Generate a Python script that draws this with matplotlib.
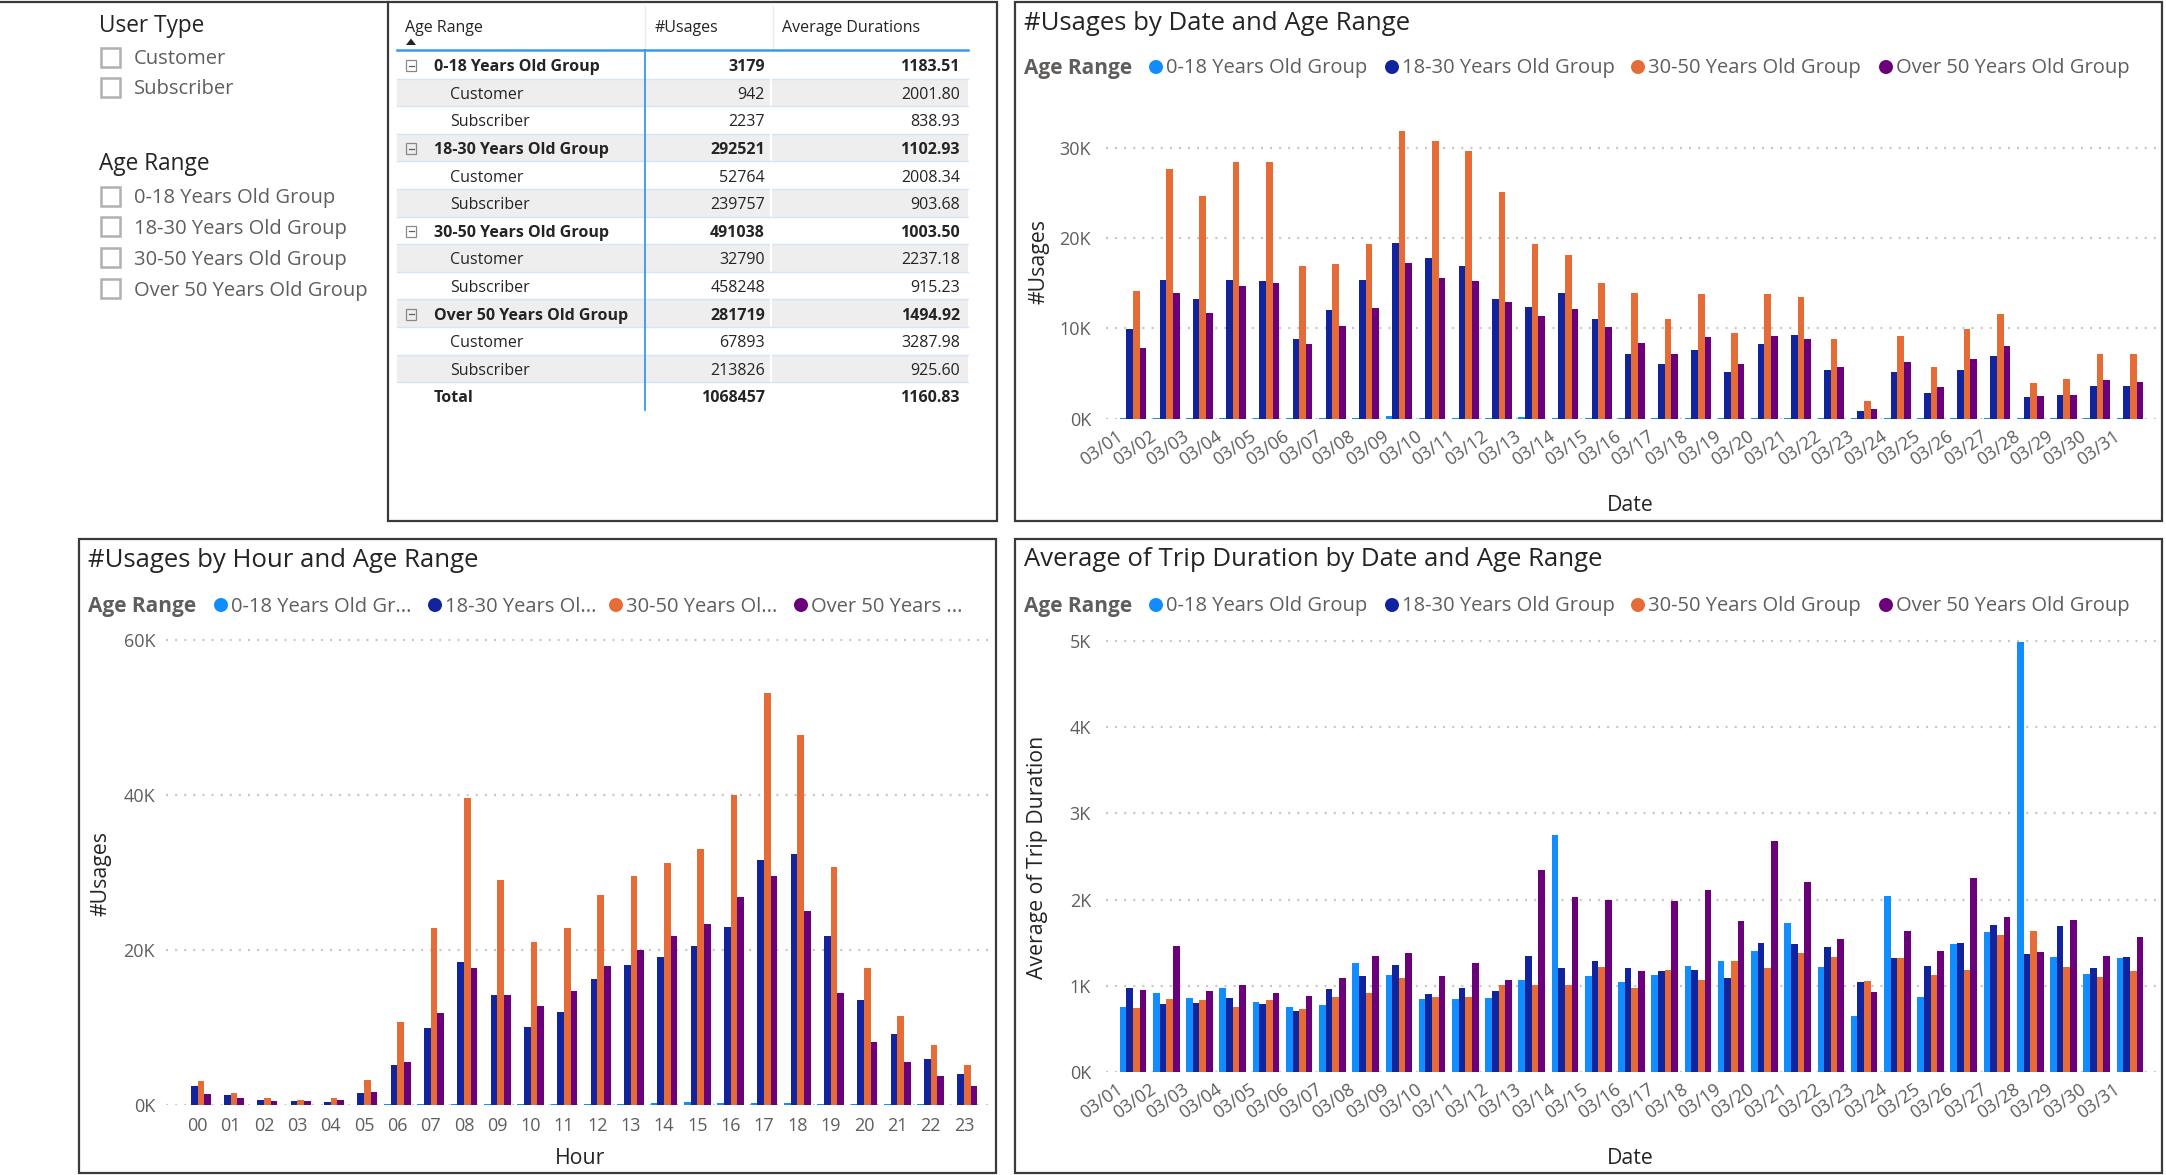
import matplotlib
matplotlib.use("Agg")
import matplotlib.pyplot as plt
import matplotlib.transforms as mtrans
from matplotlib.patches import Rectangle, Circle, Polygon
from matplotlib.ticker import FuncFormatter
import numpy as np

W, H, DPI = 2166, 1175, 100
plt.rcParams['font.family'] = ['Open Sans', 'DejaVu Sans']

# ---------------- data ----------------
colors = ['#118DFF', '#12239E', '#E66C37', '#6B007B']
age_groups = ["0-18 Years Old Group", "18-30 Years Old Group",
              "30-50 Years Old Group", "Over 50 Years Old Group"]
age_groups_short = ["0-18 Years Old Gr...", "18-30 Years Ol...",
                    "30-50 Years Ol...", "Over 50 Years ..."]
user_types = ["Customer", "Subscriber"]

dates = ["03/01", "03/02", "03/03", "03/04", "03/05", "03/06", "03/07", "03/08",
         "03/09", "03/10", "03/11", "03/12", "03/13", "03/14", "03/15", "03/16",
         "03/17", "03/18", "03/19", "03/20", "03/21", "03/22", "03/23", "03/24",
         "03/25", "03/26", "03/27", "03/28", "03/29", "03/30", "03/31"]
hours = ["00", "01", "02", "03", "04", "05", "06", "07", "08", "09", "10", "11",
         "12", "13", "14", "15", "16", "17", "18", "19", "20", "21", "22", "23"]

daily_usage_0_18 = [90, 110, 100, 120, 110, 80, 100, 110, 250, 120, 100, 90, 130, 110, 100, 80,
                    90, 100, 70, 110, 100, 80, 20, 100, 60, 90, 110, 60, 60, 80, 90]
daily_usage_18_30 = [9900, 15300, 13200, 15400, 15200, 8800, 12000, 15300, 19500, 17800, 16900,
                     13200, 12400, 13900, 11000, 7100, 6100, 7600, 5200, 8300, 9300, 5400, 850,
                     5200, 2800, 5400, 6900, 2400, 2600, 3600, 3600]
daily_usage_30_50 = [14100, 27600, 24700, 28400, 28400, 16900, 17100, 19300, 31800, 30700, 29600,
                     25100, 19300, 18100, 15000, 13900, 11000, 13800, 9500, 13800, 13500, 8800,
                     2000, 9200, 5700, 9900, 11600, 3900, 4400, 7100, 7200]
daily_usage_over50 = [7800, 13900, 11700, 14700, 15000, 8300, 10200, 12300, 17200, 15600, 15200,
                      12900, 11400, 12100, 10100, 8400, 7100, 9000, 6000, 9100, 8800, 5700, 1100,
                      6300, 3500, 6600, 8000, 2500, 2600, 4300, 4000]

hourly_usage_0_18 = [40, 30, 15, 10, 15, 40, 100, 130, 150, 140, 120, 130, 160, 170, 250, 350,
                     300, 250, 200, 160, 120, 90, 70, 60]
hourly_usage_18_30 = [2400, 1300, 600, 500, 400, 1600, 5100, 9900, 18400, 14200, 10100, 12000,
                      16200, 18100, 19100, 20500, 23000, 31600, 32400, 21800, 13500, 9100, 6000, 4000]
hourly_usage_30_50 = [3100, 1600, 900, 650, 900, 3200, 10700, 22800, 39600, 29000, 21000, 22800,
                      27100, 29600, 31200, 33000, 40000, 53100, 47700, 30700, 17700, 11500, 7700, 5200]
hourly_usage_over50 = [1400, 900, 500, 500, 650, 1700, 5500, 11900, 17700, 14200, 12800, 14700,
                       18000, 20000, 21800, 23400, 26800, 29600, 25000, 14400, 8100, 5500, 3700, 2400]

daily_avg_0_18 = [749, 911, 853, 969, 815, 757, 780, 1270, 1131, 849, 849, 861, 1066, 2749, 1112,
                  1039, 1120, 1224, 1282, 1405, 1726, 1220, 649, 2042, 869, 1483, 1625, 4992,
                  1332, 1139, 1324]
daily_avg_18_30 = [969, 788, 803, 853, 784, 710, 965, 1116, 1236, 900, 969, 938, 1340, 1208, 1282,
                   1208, 1166, 1189, 1093, 1498, 1486, 1448, 1039, 1324, 1224, 1502, 1707, 1367,
                   1699, 1208, 1336]
daily_avg_30_50 = [741, 842, 830, 757, 830, 726, 865, 911, 1093, 873, 865, 1004, 1004, 1015, 1216,
                   973, 1178, 1062, 1293, 1205, 1382, 1332, 1050, 1317, 1124, 1178, 1595, 1637,
                   1216, 1097, 1166]
daily_avg_over50 = [950, 1467, 942, 1015, 919, 876, 1093, 1347, 1375, 1112, 1259, 1066, 2347, 2035,
                    1992, 1166, 1981, 2116, 1757, 2683, 2201, 1548, 930, 1637, 1409, 2255, 1795,
                    1390, 1764, 1347, 1571]

table_usages_group = [3179, 292521, 491038, 281719]
table_avg_group = [1183.51, 1102.93, 1003.50, 1494.92]
table_usages_customer = [942, 52764, 32790, 67893]
table_avg_customer = [2001.80, 2008.34, 2237.18, 3287.98]
table_usages_subscriber = [2237, 239757, 458248, 213826]
table_avg_subscriber = [838.93, 903.68, 915.23, 925.60]
total_usages = 1068457
total_avg = 1160.83

# ---------------- figure & overlay ----------------
fig = plt.figure(figsize=(W / DPI, H / DPI), dpi=DPI)
fig.patch.set_facecolor('white')
ov = fig.add_axes([0, 0, 1, 1])
ov.set_xlim(0, W)
ov.set_ylim(H, 0)
ov.set_axis_off()
ov.set_zorder(0)

DARK = '#252423'
GREY = '#605E5C'
TSHIFT = 2.5  # visual centring correction for va='center'


def txt(x, y, s, size, color=DARK, weight='normal', ha='left', va='center', rot=0):
    if rot:
        ov.text(x, y, s, fontsize=size, color=color, fontweight=weight, ha=ha, va=va,
                rotation=rot, rotation_mode='anchor')
    else:
        ov.text(x, y + TSHIFT, s, fontsize=size, color=color, fontweight=weight, ha=ha, va=va)


def panel(x0, y0, x1, y1):
    ov.add_patch(Rectangle((x0, y0), x1 - x0, y1 - y0, fill=False, edgecolor='#3B3A39',
                           linewidth=1.6, zorder=5))


panel(388, 2, 997, 521)
panel(1015, 2, 2162, 521)
panel(79, 539, 996, 1173)
panel(1015, 539, 2162, 1173)
ov.plot([0, 388], [1.5, 1.5], color='#3B3A39', lw=1.6)

# ---------------- slicers ----------------
txt(99, 23, "User Type", 16.3)
for i, ut in enumerate(user_types):
    cy = 57 + 30 * i
    ov.add_patch(Rectangle((101, cy - 9.5), 19, 19, fill=False, edgecolor='#B3B0AD', lw=1.8))
    txt(134, cy, ut, 14.5, color=GREY)
txt(99, 161, "Age Range", 16.3)
for i, ag in enumerate(age_groups):
    cy = 196 + 30.7 * i
    ov.add_patch(Rectangle((101, cy - 9.5), 19, 19, fill=False, edgecolor='#B3B0AD', lw=1.8))
    txt(134, cy, ag, 14.5, color=GREY)

# ---------------- table ----------------
tx0, tx1 = 397, 968
col_div, num_div = 645, 771
usage_right, avg_right = 765, 960
row_top0, row_h = 51, 27.6
TFS = 11.5

txt(405, 26, "Age Range", TFS)
txt(655, 26, "#Usages", TFS)
txt(782, 26, "Average Durations", TFS)
ov.add_patch(Polygon([[406, 45], [416, 45], [411, 38.5]], closed=True, color=DARK, lw=0))
for xv in (col_div, 773):
    ov.plot([xv, xv], [6, 49], color='#EDEBE9', lw=1)

rows = []
for g in range(4):
    rows.append(('group', age_groups[g], table_usages_group[g], table_avg_group[g]))
    rows.append(('sub', user_types[0], table_usages_customer[g], table_avg_customer[g]))
    rows.append(('sub', user_types[1], table_usages_subscriber[g], table_avg_subscriber[g]))
rows.append(('total', 'Total', total_usages, total_avg))

for i, (kind, label, u, a) in enumerate(rows):
    top = row_top0 + i * row_h
    cy = top + row_h / 2
    if i % 2 == 1:
        ov.add_patch(Rectangle((tx0, top), tx1 - tx0, row_h, color='#EEEEEE', lw=0, zorder=1))
        ov.plot([num_div, num_div], [top, top + row_h], color='white', lw=1.5, zorder=2)
    if kind != 'total':
        ov.plot([tx0, tx1], [top + row_h, top + row_h], color='#D3E5F8', lw=1, zorder=2)
    bold = 'bold' if kind in ('group', 'total') else 'normal'
    if kind == 'group':
        ov.add_patch(Rectangle((406, cy - 4.5), 10, 11, fill=False, edgecolor='#8A8886',
                               lw=0.9, zorder=3))
        ov.plot([408.5, 413.5], [cy + 1, cy + 1], color='#605E5C', lw=0.9, zorder=3)
        txt(434, cy, label, TFS, weight=bold)
    elif kind == 'total':
        txt(434, cy, label, TFS, weight=bold)
    else:
        txt(450, cy, label, TFS)
    txt(usage_right, cy, f"{u}", TFS, weight=bold, ha='right')
    txt(avg_right, cy, f"{a:.2f}", TFS, weight=bold, ha='right')

ov.plot([tx0, tx1], [49.5, 49.5], color='#3C97EE', lw=1.8, zorder=4)
ov.plot([col_div, col_div], [49.5, row_top0 + len(rows) * row_h], color='#3C97EE',
        lw=1.3, zorder=4)


# ---------------- charts ----------------
def chart_axes(left, right, base, top, px_per_unit, x0_px, step_px):
    ax = fig.add_axes([left / W, 1 - base / H, (right - left) / W, (base - top) / H])
    ax.set_zorder(2)
    ax.patch.set_alpha(0)
    ax.set_ylim(0, (base - top) / px_per_unit)
    ax.set_xlim((left - x0_px) / step_px, (right - x0_px) / step_px)
    for s in ax.spines.values():
        s.set_visible(False)
    ax.tick_params(length=0, labelsize=13, labelcolor=GREY)
    ax.yaxis.grid(True, color='#C8C6C4', linestyle=(0, (0.9, 3.2)), linewidth=1.6)
    ax.set_axisbelow(True)
    ax.yaxis.set_major_formatter(FuncFormatter(lambda v, p: f"{v / 1000:.0f}K"))
    return ax


def bars(ax, series):
    x = np.arange(len(series[0]))
    for k, (vals, c) in enumerate(zip(series, colors)):
        ax.bar(x + (k - 1.5) * 0.2, vals, width=0.2, color=c, linewidth=0)


def date_labels(ax):
    ax.set_xticks([])
    off = mtrans.ScaledTranslation(-12 / DPI, -16 / DPI, fig.dpi_scale_trans)
    tr = ax.get_xaxis_transform() + off
    for i, d in enumerate(dates):
        ax.text(i, 0, d, transform=tr, rotation=35, rotation_mode='anchor', ha='right',
                va='center', fontsize=13, color=GREY)


def legend(x_label, y, xs_marker, labels):
    txt(x_label, y, "Age Range", 15, color=GREY, weight='bold')
    for xm, lab, c in zip(xs_marker, labels, colors):
        ov.add_patch(Circle((xm, y + 1), 7, color=c, lw=0))
        txt(xm + 10, y, lab, 14.5, color=GREY)


# top-right: usages by date
ax1 = chart_axes(1106, 2156, 418.6, 120, 90.3 / 10000, 1133, 33.23)
bars(ax1, [daily_usage_0_18, daily_usage_18_30, daily_usage_30_50, daily_usage_over50])
ax1.set_yticks([0, 10000, 20000, 30000])
ax1.tick_params(axis='y', pad=10.8)
date_labels(ax1)
txt(1024, 21, "#Usages by Date and Age Range", 18.5)
legend(1024, 66, [1156, 1392, 1638, 1886], age_groups)
txt(1039, 262, "#Usages", 15.3, rot=90, ha='center')
txt(1630, 503, "Date", 15.3, ha='center')

# bottom-right: average duration by date
ax2 = chart_axes(1106, 2156, 1072, 630, 86.2 / 1000, 1133, 33.23)
bars(ax2, [daily_avg_0_18, daily_avg_18_30, daily_avg_30_50, daily_avg_over50])
ax2.set_yticks([0, 1000, 2000, 3000, 4000, 5000])
ax2.tick_params(axis='y', pad=10.8)
date_labels(ax2)
txt(1024, 557, "Average of Trip Duration by Date and Age Range", 18.5)
legend(1024, 604, [1156, 1392, 1638, 1886], age_groups)
txt(1037, 857, "Average of Trip Duration", 15.3, rot=90, ha='center')
txt(1630, 1156, "Date", 15.3, ha='center')

# bottom-left: usages by hour
ax3 = chart_axes(166, 988, 1105, 630, 155 / 20000, 197.5, 33.33)
bars(ax3, [hourly_usage_0_18, hourly_usage_18_30, hourly_usage_30_50, hourly_usage_over50])
ax3.set_yticks([0, 20000, 40000, 60000])
ax3.tick_params(axis='y', pad=7.9)
ax3.set_xticks(np.arange(len(hours)), hours, va='center')
ax3.tick_params(axis='x', pad=15)
txt(88, 558, "#Usages by Hour and Age Range", 18.5)
legend(88, 604, [221, 435, 616, 801], age_groups_short)
txt(101, 873, "#Usages", 15.3, rot=90, ha='center')
txt(580, 1156, "Hour", 15.3, ha='center')

fig.savefig("out.png", dpi=DPI, facecolor='white')
